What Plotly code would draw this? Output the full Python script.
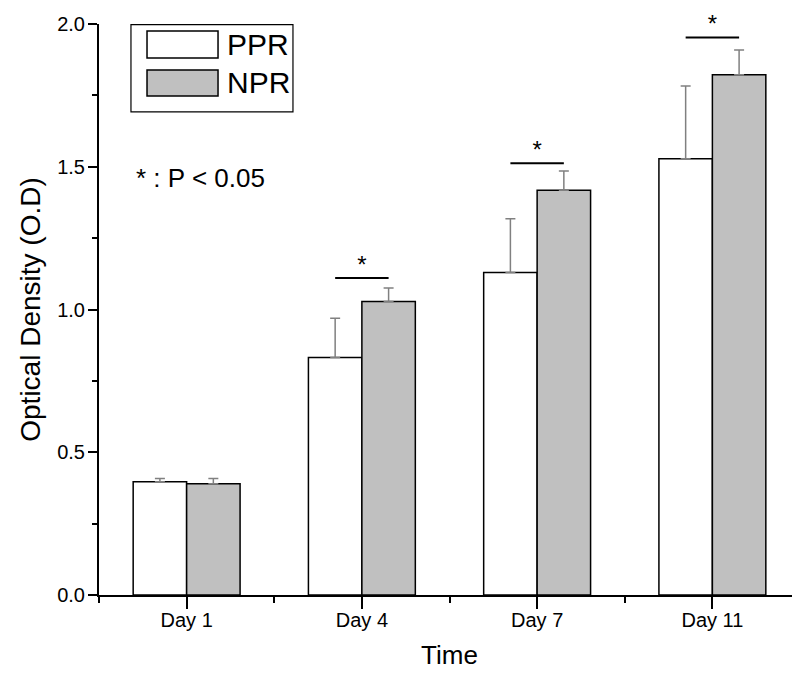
import plotly.graph_objects as go

categories = ["Day 1", "Day 4", "Day 7", "Day 11"]
ppr_values = [0.397, 0.832, 1.130, 1.528]
ppr_errors = [0.011, 0.137, 0.188, 0.255]
npr_values = [0.390, 1.028, 1.418, 1.822]
npr_errors = [0.018, 0.047, 0.067, 0.087]
sig_line_y = [None, 1.110, 1.512, 1.953]
y_ticks = [0.0, 0.5, 1.0, 1.5, 2.0]

FONT = "Liberation Sans, Arial, sans-serif"
xpos = list(range(len(categories)))
half = (1 - 0.39) / 4  # center offset of each bar in a group

fig = go.Figure()
fig.add_bar(x=xpos, y=ppr_values, name="PPR",
            marker=dict(color="white", line=dict(color="black", width=1.5)),
            error_y=dict(type="data", array=ppr_errors, arrayminus=[0]*4, symmetric=False,
                         color="#808080", thickness=1.5, width=5))
fig.add_bar(x=xpos, y=npr_values, name="NPR",
            marker=dict(color="#c0c0c0", line=dict(color="black", width=1.5)),
            error_y=dict(type="data", array=npr_errors, arrayminus=[0]*4, symmetric=False,
                         color="#808080", thickness=1.5, width=5))

for i, ly in enumerate(sig_line_y):
    if ly is None:
        continue
    fig.add_trace(go.Scatter(x=[i - half, i + half], y=[ly, ly], mode="lines",
                             line=dict(color="black", width=2), showlegend=False,
                             hoverinfo="skip", cliponaxis=False))
    fig.add_trace(go.Scatter(x=[i], y=[ly + 0.04], mode="text", text=["*"],
                             textposition="middle center",
                             textfont=dict(family=FONT, size=24, color="black"),
                             showlegend=False, hoverinfo="skip", cliponaxis=False))

# custom legend
fig.add_shape(type="rect", xref="paper", yref="paper", x0=0.0456, x1=0.2767, y0=0.846, y1=0.9988,
              line=dict(color="black", width=1.2), fillcolor="white")
fig.add_shape(type="rect", xref="paper", yref="paper", x0=0.0685, x1=0.1698, y0=0.9405, y1=0.9877,
              line=dict(color="black", width=1.5), fillcolor="white")
fig.add_shape(type="rect", xref="paper", yref="paper", x0=0.0685, x1=0.1698, y0=0.8739, y1=0.9194,
              line=dict(color="black", width=1.5), fillcolor="#c0c0c0")
fig.add_annotation(xref="paper", yref="paper", x=0.180, y=0.9641, text="PPR", showarrow=False,
                   xanchor="left", yanchor="middle", font=dict(family=FONT, size=30, color="black"))
fig.add_annotation(xref="paper", yref="paper", x=0.180, y=0.8967, text="NPR", showarrow=False,
                   xanchor="left", yanchor="middle", font=dict(family=FONT, size=30, color="black"))
fig.add_annotation(xref="paper", yref="paper", x=0.1455, y=0.7303, text="* : P < 0.05", showarrow=False,
                   xanchor="center", yanchor="middle", font=dict(family=FONT, size=26, color="black"))

fig.update_layout(
    width=800, height=676,
    margin=dict(l=91, r=8, t=16, b=89, autoexpand=False),
    paper_bgcolor="white", plot_bgcolor="white",
    barmode="group", bargap=0.39, bargroupgap=0,
    showlegend=False,
    font=dict(family=FONT, color="black"),
)
fig.update_xaxes(
    automargin=False,
    range=[-0.5, len(categories) - 0.5],
    tickvals=xpos, ticktext=categories,
    ticks="outside", ticklen=12, tickwidth=2, tickcolor="black",
    minor=dict(tickvals=[i - 0.5 for i in range(len(categories) + 1)], ticks="outside",
               ticklen=6, tickwidth=2, tickcolor="black"),
    showline=True, linecolor="black", linewidth=2,
    showgrid=False, zeroline=False,
    ticklabelstandoff=-6,
    tickfont=dict(family=FONT, size=20, color="black"),
    title=dict(text="Time", font=dict(family=FONT, size=26, color="black"), standoff=16),
)
fig.update_yaxes(
    automargin=False,
    range=[0, 2.0],
    tickvals=y_ticks, ticktext=[f"{v:.1f}" for v in y_ticks],
    ticks="outside", ticklen=9, tickwidth=2, tickcolor="black",
    minor=dict(dtick=0.25, tick0=0, ticks="outside", ticklen=5, tickwidth=2, tickcolor="black"),
    showline=True, linecolor="black", linewidth=2,
    showgrid=False, zeroline=False,
    ticklabelstandoff=-1,
    tickfont=dict(family=FONT, size=20, color="black"),
    title=dict(text="Optical Density (O.D)", font=dict(family=FONT, size=28, color="black"), standoff=8),
)

fig.write_html("out.html")
